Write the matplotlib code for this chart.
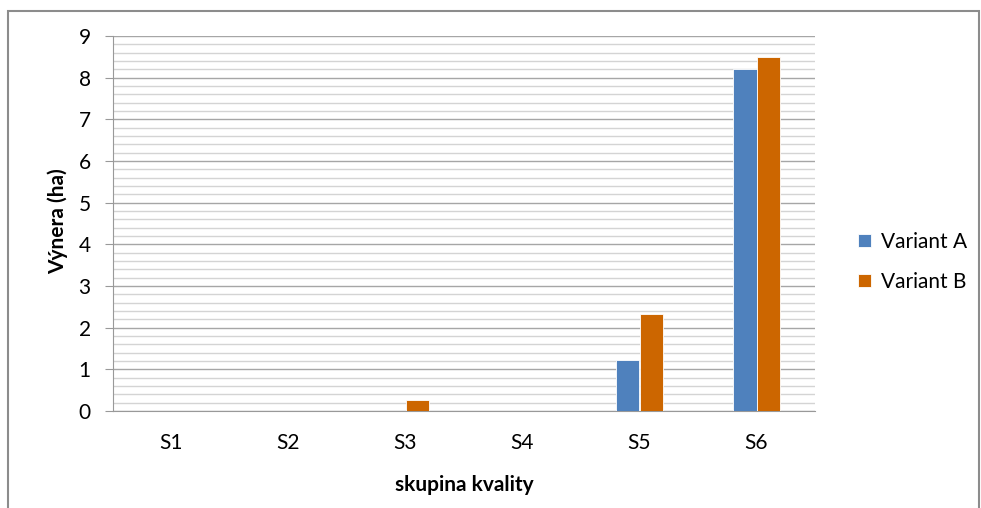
import matplotlib
matplotlib.use("Agg")
import matplotlib.pyplot as plt
import numpy as np
from matplotlib.patches import Rectangle

categories = ["S1", "S2", "S3", "S4", "S5", "S6"]
variant_a = [0, 0, 0, 0, 1.23, 8.21]
variant_b = [0, 0, 0.26, 0, 2.34, 8.50]
series_names = ["Variant A", "Variant B"]
colors = ["#4F81BD", "#CC6600"]

plt.rcParams["font.family"] = ["Lato", "DejaVu Sans"]
FS = 15

fig = plt.figure(figsize=(9.81, 5.08), dpi=100)
ax = fig.add_axes([113 / 981, 1 - 411 / 508, (815 - 113) / 981, (411 - 36) / 508])

x = np.arange(len(categories))
w = 0.2
ax.bar(x - w / 2, variant_a, w, color=colors[0], edgecolor="white", linewidth=0.6,
       label=series_names[0], zorder=3)
ax.bar(x + w / 2, variant_b, w, color=colors[1], edgecolor="white", linewidth=0.6,
       label=series_names[1], zorder=3)

ax.set_xlim(-0.5, len(categories) - 0.5)
ax.set_ylim(0, 9)
ax.set_yticks(range(0, 10))
ax.set_yticks(np.arange(0, 9.01, 0.2), minor=True)
ax.set_xticks(x)
ax.set_xticklabels(categories)
ax.grid(axis="y", which="major", color="#a6a6a6", lw=1.0, zorder=0)
ax.grid(axis="y", which="minor", color="#d4d4d4", lw=1.0, zorder=0)

for s in ["top", "right"]:
    ax.spines[s].set_visible(False)
for s in ["left", "bottom"]:
    ax.spines[s].set_color("#999999")
ax.tick_params(axis="y", which="major", length=6, color="#999999", labelsize=FS, pad=10)
ax.tick_params(axis="y", which="minor", length=0)
ax.tick_params(axis="x", length=0, labelsize=FS, pad=16)

ax.set_ylabel("Výnera (ha)", fontsize=FS, fontweight="bold")
ax.yaxis.set_label_coords(-0.064, 0.505)
ax.set_xlabel("skupina kvality", fontsize=FS, fontweight="bold")
ax.xaxis.set_label_coords(0.5, -(475 - 411) / 375)

ax.legend(loc="center left", bbox_to_anchor=(848 / 981, 1 - 262 / 508),
          bbox_transform=fig.transFigure, frameon=False, borderpad=0,
          fontsize=FS, handlelength=0.6, handleheight=0.6, labelspacing=0.95,
          handletextpad=0.5)

fig.patches.append(Rectangle((8 / 981, -0.01), (979 - 8) / 981, 1 - 11 / 508 + 0.01,
                             transform=fig.transFigure, fill=False,
                             edgecolor="#8c8c8c", lw=1.5))

fig.savefig("out.png", dpi=100)
